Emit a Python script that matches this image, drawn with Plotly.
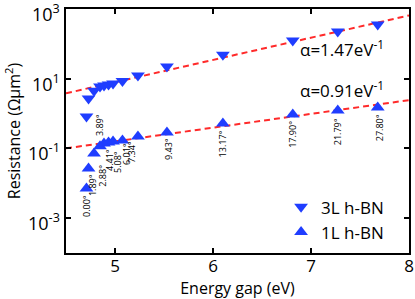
import numpy as np
import plotly.graph_objects as go

# ---- data ----
energy_gap = [4.709, 4.730, 4.786, 4.847, 4.888, 4.934, 4.980, 5.076, 5.234, 5.530, 6.101, 6.814, 7.273, 7.681]
res_3L = [0.82, 2.70, 4.55, 5.95, 6.35, 6.80, 7.25, 8.55, 12.3, 22.3, 49.0, 124.0, 225.0, 357.0]
res_1L = [0.0071, 0.0266, 0.0716, 0.115, 0.139, 0.148, 0.159, 0.169, 0.221, 0.287, 0.521, 0.945, 1.23, 1.50]

angle_labels = ["0.00°", "1.89°", "2.88°", "3.89°", "4.41°", "5.08°", "6.01°",
                "7.34°", "9.43°", "13.17°", "17.90°", "21.79°", "27.80°"]

fit_E = [4.5, 8.0]
fit_3L_R0, fit_3L_alpha = 3.81, 1.47   # R = R0*exp(alpha*(E-4.5))
fit_1L_R0, fit_1L_alpha = 0.1007, 0.91

x_ticks = [5, 6, 7, 8]
y_ticks = [1e-3, 1e-1, 1e1, 1e3]
y_tick_text = ["10<sup>-3</sup>", "10<sup>-1</sup>", "10<sup>1</sup>", "10<sup>3</sup>"]

# ---- layout helpers (positions of angle labels: x in eV, y in log10) ----
label_pos_x = [4.704, 4.776, 4.864, 4.837, 4.939, 5.020, 5.112, 5.163, 5.540, 6.101, 6.804, 7.273, 7.701]
label_pos_y = [-2.652, -2.049, -1.791, -0.328, -1.332, -1.390, -1.160, -1.103, -1.017, -0.859, -0.586, -0.515, -0.400]

BLUE = "#1f3dff"
RED = "#ff2a2a"
FONT = "Open Sans"

fig = go.Figure()

E = np.array(fit_E)
fig.add_trace(go.Scatter(x=E, y=fit_3L_R0 * np.exp(fit_3L_alpha * (E - fit_E[0])),
                         mode="lines", line=dict(color=RED, width=2, dash="6px,4px"),
                         showlegend=False, hoverinfo="skip"))
fig.add_trace(go.Scatter(x=E, y=fit_1L_R0 * np.exp(fit_1L_alpha * (E - fit_E[0])),
                         mode="lines", line=dict(color=RED, width=2, dash="6px,4px"),
                         showlegend=False, hoverinfo="skip"))

fig.add_trace(go.Scatter(x=energy_gap, y=res_3L, mode="markers", name="3L h-BN",
                         marker=dict(symbol="triangle-down", size=12, color=BLUE, line=dict(width=0))))
fig.add_trace(go.Scatter(x=energy_gap, y=res_1L, mode="markers", name="1L h-BN",
                         marker=dict(symbol="triangle-up", size=12, color=BLUE, line=dict(width=0))))

annotations = []
for t, xx, yy in zip(angle_labels, label_pos_x, label_pos_y):
    annotations.append(dict(x=xx, y=yy, xref="x", yref="y", text=t, showarrow=False,
                            textangle=-90, font=dict(family=FONT, size=9, color="black"),
                            xanchor="center", yanchor="middle"))

# y tick labels drawn as text next to the axis (so the top one is not clipped)
for v, t in zip(y_ticks, y_tick_text):
    annotations.append(dict(x=0, y=np.log10(v), xref="paper", yref="y", text=t, showarrow=False,
                            xanchor="right", yanchor="middle", xshift=-4, yshift=-4,
                            font=dict(family=FONT, size=18, color="black")))

annotations.append(dict(x=6.876, y=1.88, xref="x", yref="y", text="α=1.47eV<sup>-1</sup>",
                        showarrow=False, xanchor="left", yanchor="middle", borderpad=0,
                        font=dict(family=FONT, size=17, color="black")))
annotations.append(dict(x=6.876, y=0.705, xref="x", yref="y", text="α=0.91eV<sup>-1</sup>",
                        showarrow=False, xanchor="left", yanchor="middle", borderpad=0,
                        font=dict(family=FONT, size=17, color="black")))

axis_common = dict(showline=True, linecolor="black", linewidth=1.5, mirror="ticks",
                   ticks="inside", ticklen=5, tickwidth=1.5, tickcolor="black",
                   showgrid=False, zeroline=False, automargin=False,
                   tickfont=dict(family=FONT, size=17, color="black"))

fig.update_layout(
    width=415, height=299,
    margin=dict(l=66, r=6, t=9, b=46),
    paper_bgcolor="white", plot_bgcolor="white",
    font=dict(family=FONT, color="black"),
    annotations=annotations,
    xaxis=dict(range=[4.5, 8.0001], tickvals=x_ticks, ticklabelstandoff=-3,
               title=dict(text="Energy gap (eV)", font=dict(family=FONT, size=16), standoff=6),
               **axis_common),
    yaxis=dict(type="log", range=[-4, 3.0001], tickvals=y_ticks, showticklabels=False,
               title=dict(text="Resistance (Ωμm<sup>2</sup>)", font=dict(family=FONT, size=16), standoff=40),
               **axis_common),
    legend=dict(x=0.627, y=0.011, xanchor="left", yanchor="bottom",
                bgcolor="rgba(0,0,0,0)", font=dict(family=FONT, size=17),
                itemsizing="constant", tracegroupgap=0),
)

fig.write_html("out.html", config={"displayModeBar": False},
               post_script="document.body.style.margin='0';document.body.style.padding='0';")
